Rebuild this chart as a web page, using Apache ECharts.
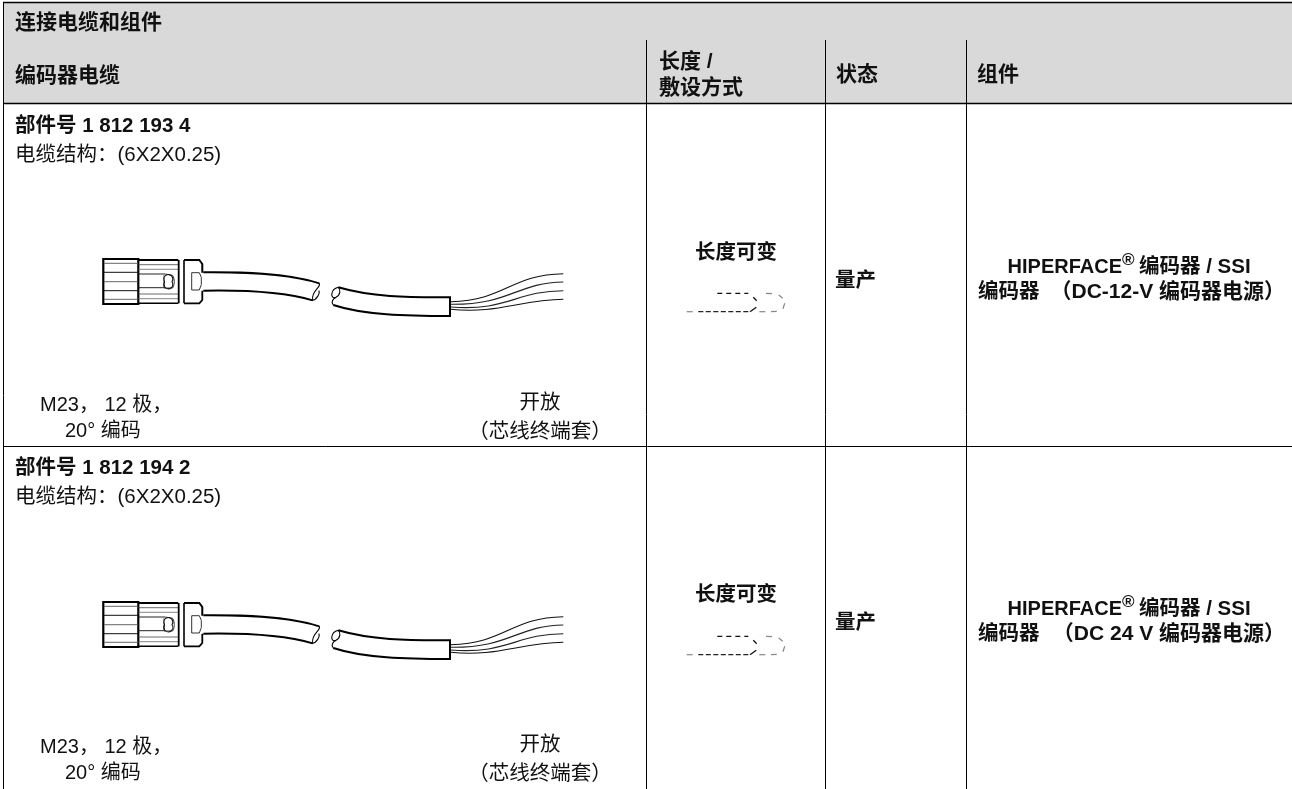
<!DOCTYPE html>
<html><head><meta charset="utf-8">
<style>html,body{margin:0;padding:0;background:#fff}#c{width:1292px;height:789px}</style>
<script src="https://cdn.jsdelivr.net/npm/echarts@6/dist/echarts.min.js"></script>
</head><body><div id="c"></div>
<script>
const tableTitle = '连接电缆和组件';
const columnHeaders = ['编码器电缆', '长度 /', '敷设方式', '状态', '组件'];
const partNumbers = ['部件号 1 812 193 4', '部件号 1 812 194 2'];
const cableBuild = '电缆结构：(6X2X0.25)';
const connectorLabels = ['M23， 12 极，', '20° 编码'];
const openEndLabels = ['开放', '（芯线终端套）'];
const lengthLabel = '长度可变';
const statusLabel = '量产';
const compLine1 = ['HIPERFACE', '®', '编码器 / SSI'];
const compLine2 = ['编码器', '（DC-12-V 编码器电源）', '（DC 24 V 编码器电源）'];

const FONT = '"Liberation Sans","Noto Sans CJK SC",sans-serif';
const els = [];
const paths = [];
function text(s, x, y, size, bold, align) {
  els.push({type:'text', silent:true, z:5, style:{text:s, x, y, fill:'#111', font:(bold?'bold ':'')+size+'px '+FONT, textAlign:align||'left', textVerticalAlign:'middle'}});
}
function line(x1,y1,x2,y2,w,c) {
  els.push({type:'line', silent:true, z:3, shape:{x1,y1,x2,y2}, style:{stroke:c||'#000', lineWidth:w||1}});
}
function path(d, w, c, dash) {
  paths.push({type:'path', silent:true, shape:{pathData:d}, style:{fill:null, stroke:c||'#000', lineWidth:w, lineDash:dash||null, lineCap:'butt'}});
}
// background and grid
els.push({type:'rect', silent:true, z:1, shape:{x:3,y:2,width:1289,height:101}, style:{fill:'#d9d9d9'}});
line(3,2.5,1292,2.5,1.6);
line(3.5,2,3.5,789,1);
line(3,103.5,1292,103.5,1.5);
line(3,446.5,1292,446.5,1);
[646.5,825.5,966.5].forEach(x=>line(x,40,x,789,1));

function drawing(dy) {
  const A=(zx,zy)=>(90+zx/3).toFixed(1)+' '+(250+zy/3+dy).toFixed(1);
  const B=(zx,zy)=>(320+zx/3).toFixed(1)+' '+(250+zy/3+dy).toFixed(1);
  // grip
  path(`M${A(145,27)}L${A(40,27)}L${A(40,162)}L${A(145,162)}Z`,2.2);
  [40,67,95,122,148].forEach((y,i)=>path(`M${A(42,y)}L${A(143,y)}`,1,i%2?'#111':'#666'));
  // middle body
  path(`M${A(145,30)}L${A(265,30)}`,2); path(`M${A(145,160)}L${A(265,160)}`,1.4);
  path(`M${A(145,44)}L${A(265,44)}`,0.8,'#444'); path(`M${A(145,58)}L${A(265,58)}`,0.8,'#666');
  path(`M${A(145,132)}L${A(265,132)}`,0.8,'#444'); path(`M${A(145,146)}L${A(265,146)}`,0.8,'#666');
  path(`M${A(145,72)}L${A(225,72)}`,1,'#222'); path(`M${A(145,113)}L${A(225,113)}`,1,'#222');
  path(`M${A(225,72)}L${A(248,76)}Q${A(258,95)} ${A(248,114)}L${A(222,114)}L${A(222,76)}`,1,'#444');
  path(`M${A(224,95)}A4.5 4.5 0 1 1 ${A(246,95)}A4.5 4.5 0 1 1 ${A(224,95)}`,1.1,'#111');
  // band + head
  path(`M${A(266,30)}L${A(266,160)}`,1.8); path(`M${A(282,30)}L${A(282,160)}`,1.6);
  path(`M${A(282,30)}L${A(328,30)}L${A(337,42)}L${A(337,68)}`,2);
  path(`M${A(282,160)}L${A(328,160)}L${A(337,150)}L${A(337,122)}`,1.8);
  path(`M${A(328,68)}L${A(305,68)}L${A(305,120)}L${A(328,120)}L${A(334,104)}L${A(334,82)}Z`,1,'#333');
  // cable, left part
  path(`M${A(340,67)}C${A(450,66)} ${A(590,68)} ${A(688,100)}`,1.9);
  path(`M${A(340,122)}C${A(450,120)} ${A(570,122)} ${A(668,151)}`,1.9);
  path(`M${A(688,100)}C${A(695,112)} ${A(662,122)} ${A(668,151)}C${A(678,150)} ${A(692,130)} ${A(686,122)}`,1.1);
  // cable, right part
  path(`M${B(55,112)}C${B(150,140)} ${B(260,143)} ${B(390,142)}L${B(390,198)}C${B(260,198)} ${B(130,195)} ${B(40,165)}`,2);
  path(`M${B(55,112)}C${B(30,118)} ${B(30,150)} ${B(48,142)}C${B(62,135)} ${B(62,118)} ${B(55,112)}`,1.1);
  path(`M${B(40,165)}C${B(32,155)} ${B(38,148)} ${B(48,142)}`,1.1);
  // wires
  path(`M${B(392,155)}C${B(560,150)} ${B(570,74)} ${B(730,71)}`,1.1,'#111');
  path(`M${B(392,163)}C${B(570,165)} ${B(590,98)} ${B(730,96)}`,1.1,'#222');
  path(`M${B(392,171)}C${B(560,185)} ${B(590,122)} ${B(730,122)}`,1.1,'#222');
  path(`M${B(392,178)}C${B(530,192)} ${B(600,150)} ${B(730,148)}`,1.1,'#111');
}
function lengthIcon(dy) {
  const C=(zx,zy)=>(640+zx/3).toFixed(1)+' '+(230+zy/3+dy).toFixed(1);
  path(`M${C(232,190)}L${C(325,190)}`,1.3,'#111',[5,4]);
  path(`M${C(175,245)}L${C(325,245)}`,1.3,'#222',[5,2.5]);
  path(`M${C(140,245)}L${C(158,245)}`,1.2,'#888');
  path(`M${C(340,202)}L${C(350,212)}`,1.3,'#111');
  path(`M${C(330,245)}L${C(349,232)}`,1.3,'#111');
  path(`M${C(358,245)}L${C(376,245)}`,1.2,'#888');
  path(`M${C(393,245)}L${C(410,244)}`,1.2,'#888');
  path(`M${C(378,190)}L${C(396,191)}`,1.2,'#888');
  path(`M${C(416,195)}L${C(428,205)}`,1.2,'#888');
  path(`M${C(434,220)}L${C(429,236)}`,1.2,'#888');
}

text(tableTitle, 15, 23, 21, true);
text(columnHeaders[0], 15, 76, 21, true);
text(columnHeaders[1], 659, 62, 21, true);
text(columnHeaders[2], 659, 88, 21, true);
text(columnHeaders[3], 836, 75, 21, true);
text(columnHeaders[4], 977, 75, 21, true);

[0,1].forEach(i=>{
  const dy = i? 342 : 0;
  text(partNumbers[i], 15, 126+dy, 20.5, true);
  text(cableBuild, 15, 155+dy, 20.5, false);
  text(connectorLabels[0], 40, 405+dy, 20, false);
  text(connectorLabels[1], 65, 431+dy, 20, false);
  text(openEndLabels[0], 540, 403+dy, 20.5, false, 'center');
  text(openEndLabels[1], 540, 432+dy, 20.5, false, 'center');
  text(lengthLabel, 736, 253+dy, 20.5, true, 'center');
  text(statusLabel, 835, 281+dy, 20.5, true);
  text(compLine1[0], 1122, 267+dy, 20, true, 'right');
  text(compLine1[1], 1122, 260+dy, 17, true);
  text(compLine1[2], 1139, 267+dy, 20.5, true);
  text(compLine2[0], 978, 292+dy, 20.5, true);
  text(compLine2[1+i], 1285, 292+dy, 21, true, 'right');
  drawing(i? 343 : 0);
  lengthIcon(i? 343 : 0);
});

const chart = echarts.init(document.getElementById('c'), null, {renderer:'canvas'});
chart.setOption({
  animation:false, backgroundColor:'#fff', graphic:{elements:els},
  series:[{type:'custom', coordinateSystem:'none', silent:true, data:[0],
    renderItem:()=>({type:'group', children:paths})}]
});
</script></body></html>
